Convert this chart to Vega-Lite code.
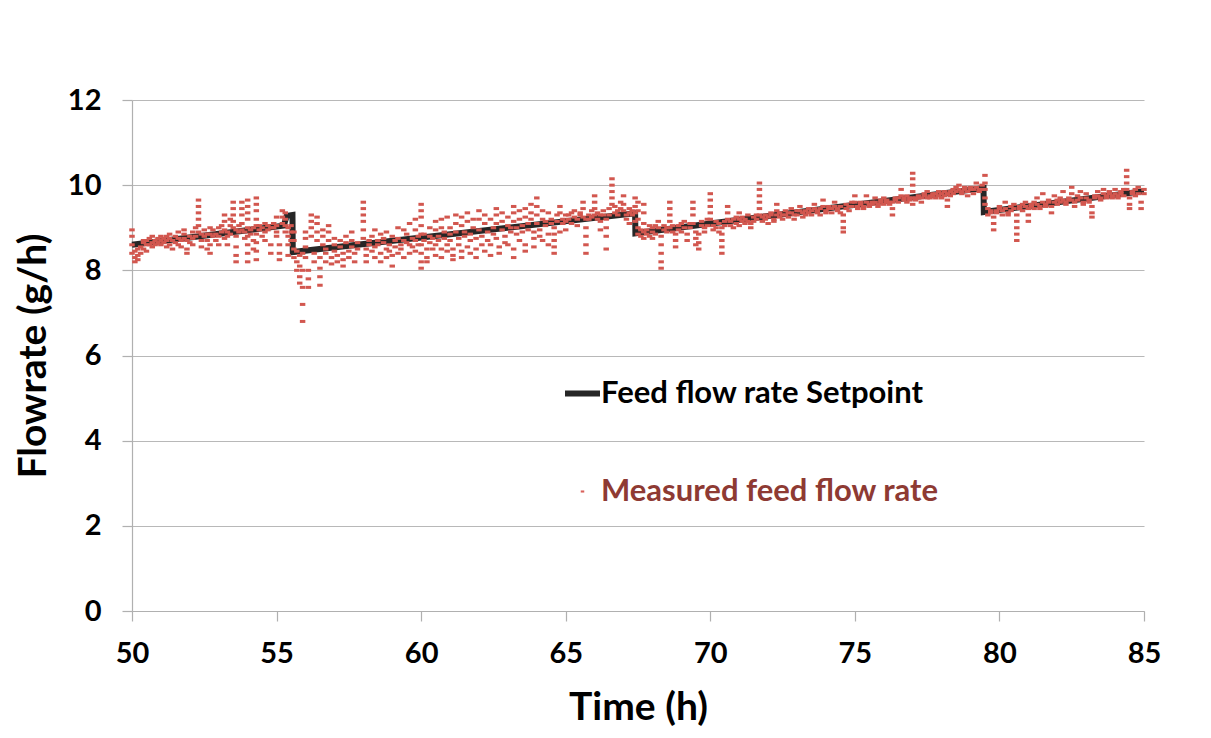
{
  "$schema": "https://vega.github.io/schema/vega-lite/v6.json",
  "width": 1012,
  "height": 511,
  "autosize": "none",
  "padding": {"left": 132, "top": 100, "right": 67, "bottom": 127},
  "background": "white",
  "config": {
    "view": {"stroke": null},
    "font": "Lato",
    "axis": {"labelFont": "Lato", "titleFont": "Lato", "labelFontWeight": "bold", "titleFontWeight": "bold", "labelColor": "black", "titleColor": "black", "labelFontSize": 29, "titleFontSize": 39, "domainColor": "#b0b0b0", "tickColor": "#b0b0b0", "gridColor": "#b8b8b8", "domainWidth": 1.2, "tickWidth": 1.2, "gridWidth": 1.2, "tickSize": 10, "labelFlush": false}
  },
  "datasets": {
    "sp": [
      {"i": 1, "t": 50, "s": 8.6, "series": "Feed flow rate Setpoint"},
      {"i": 2, "t": 55.25, "s": 9.05, "series": "Feed flow rate Setpoint"},
      {"i": 3, "t": 55.35, "s": 9.28, "series": "Feed flow rate Setpoint"},
      {"i": 4, "t": 55.55, "s": 9.3, "series": "Feed flow rate Setpoint"},
      {"i": 5, "t": 55.56, "s": 8.43, "series": "Feed flow rate Setpoint"},
      {"i": 6, "t": 67.4, "s": 9.34, "series": "Feed flow rate Setpoint"},
      {"i": 7, "t": 67.41, "s": 8.87, "series": "Feed flow rate Setpoint"},
      {"i": 8, "t": 79.45, "s": 9.93, "series": "Feed flow rate Setpoint"},
      {"i": 9, "t": 79.46, "s": 9.37, "series": "Feed flow rate Setpoint"},
      {"i": 10, "t": 85, "s": 9.86, "series": "Feed flow rate Setpoint"},
      {"i": 11, "t": 85, "s": 9.86, "series": "Measured feed flow rate"}
    ],
    "meas": [
      {"t":50.0,"v":8.95},{"t":50.0,"v":8.8},{"t":50.0,"v":8.6},{"t":50.0,"v":8.4},
      {"t":50.1,"v":8.3},{"t":50.1,"v":8.2},{"t":50.1,"v":8.45},
      {"t":50.2,"v":8.5},{"t":50.2,"v":8.35},{"t":50.2,"v":8.25},
      {"t":50.3,"v":8.55},{"t":50.3,"v":8.4},
      {"t":50.4,"v":8.65},{"t":50.4,"v":8.5},{"t":50.4,"v":8.7},
      {"t":50.5,"v":8.6},{"t":50.5,"v":8.7},{"t":50.5,"v":8.45},
      {"t":50.6,"v":8.75},{"t":50.6,"v":8.6},
      {"t":50.7,"v":8.65},{"t":50.7,"v":8.8},{"t":50.7,"v":8.55},
      {"t":50.8,"v":8.7},{"t":50.8,"v":8.6},
      {"t":50.9,"v":8.75},{"t":50.9,"v":8.65},
      {"t":51.0,"v":8.7},{"t":51.0,"v":8.8},{"t":51.0,"v":8.6},
      {"t":51.1,"v":8.65},{"t":51.1,"v":8.75},
      {"t":51.2,"v":8.8},{"t":51.2,"v":8.7},{"t":51.2,"v":8.55},
      {"t":51.3,"v":8.75},{"t":51.3,"v":8.85},{"t":51.3,"v":8.6},
      {"t":51.4,"v":8.7},{"t":51.4,"v":8.5},
      {"t":51.5,"v":8.8},{"t":51.5,"v":8.65},
      {"t":51.6,"v":8.75},{"t":51.6,"v":8.9},{"t":51.6,"v":8.6},
      {"t":51.7,"v":8.7},{"t":51.7,"v":8.55},
      {"t":51.8,"v":8.85},{"t":51.8,"v":8.75},{"t":51.8,"v":8.95},
      {"t":51.9,"v":8.7},{"t":51.9,"v":8.5},{"t":51.9,"v":8.4},
      {"t":52.0,"v":8.8},{"t":52.0,"v":8.65},
      {"t":52.1,"v":8.9},{"t":52.1,"v":8.75},{"t":52.1,"v":8.6},
      {"t":52.2,"v":8.8},{"t":52.2,"v":9.0},
      {"t":52.3,"v":9.65},{"t":52.3,"v":9.5},{"t":52.3,"v":9.35},{"t":52.3,"v":9.2},{"t":52.3,"v":9.05},{"t":52.3,"v":8.9},
      {"t":52.4,"v":8.85},{"t":52.4,"v":8.7},{"t":52.4,"v":8.55},
      {"t":52.5,"v":8.8},{"t":52.5,"v":8.95},
      {"t":52.6,"v":8.85},{"t":52.6,"v":8.7},{"t":52.6,"v":8.5},
      {"t":52.7,"v":9.0},{"t":52.7,"v":8.85},{"t":52.7,"v":8.6},{"t":52.7,"v":8.4},
      {"t":52.8,"v":8.8},{"t":52.8,"v":8.95},
      {"t":52.9,"v":8.85},{"t":52.9,"v":8.7},
      {"t":53.0,"v":9.0},{"t":53.0,"v":8.8},{"t":53.0,"v":8.6},
      {"t":53.1,"v":8.9},{"t":53.1,"v":9.05},
      {"t":53.2,"v":9.3},{"t":53.2,"v":9.15},{"t":53.2,"v":8.95},{"t":53.2,"v":8.75},
      {"t":53.3,"v":8.9},{"t":53.3,"v":8.8},{"t":53.3,"v":8.6},
      {"t":53.4,"v":9.2},{"t":53.4,"v":9.05},{"t":53.4,"v":8.85},
      {"t":53.5,"v":9.6},{"t":53.5,"v":9.45},{"t":53.5,"v":9.3},{"t":53.5,"v":9.15},{"t":53.5,"v":9.0},
      {"t":53.6,"v":8.95},{"t":53.6,"v":8.8},{"t":53.6,"v":8.55},{"t":53.6,"v":8.35},{"t":53.6,"v":8.2},
      {"t":53.7,"v":8.9},{"t":53.7,"v":9.05},
      {"t":53.8,"v":9.6},{"t":53.8,"v":9.45},{"t":53.8,"v":9.3},{"t":53.8,"v":9.1},{"t":53.8,"v":8.95},
      {"t":53.9,"v":8.9},{"t":53.9,"v":8.75},
      {"t":54.0,"v":9.65},{"t":54.0,"v":9.5},{"t":54.0,"v":9.35},{"t":54.0,"v":9.2},{"t":54.0,"v":9.0},{"t":54.0,"v":8.8},{"t":54.0,"v":8.6},{"t":54.0,"v":8.4},{"t":54.0,"v":8.2},
      {"t":54.1,"v":8.95},{"t":54.1,"v":8.85},
      {"t":54.2,"v":9.0},{"t":54.2,"v":8.7},{"t":54.2,"v":8.5},
      {"t":54.3,"v":9.7},{"t":54.3,"v":9.55},{"t":54.3,"v":9.4},{"t":54.3,"v":9.2},{"t":54.3,"v":9.05},{"t":54.3,"v":8.85},{"t":54.3,"v":8.65},{"t":54.3,"v":8.45},{"t":54.3,"v":8.25},
      {"t":54.4,"v":8.95},{"t":54.4,"v":9.05},
      {"t":54.5,"v":9.0},{"t":54.5,"v":8.8},
      {"t":54.6,"v":8.9},{"t":54.6,"v":9.1},{"t":54.6,"v":8.7},
      {"t":54.7,"v":9.05},{"t":54.7,"v":8.95},
      {"t":54.8,"v":9.0},{"t":54.8,"v":8.6},{"t":54.8,"v":8.4},
      {"t":54.9,"v":9.1},{"t":54.9,"v":9.0},
      {"t":55.0,"v":9.25},{"t":55.0,"v":9.05},{"t":55.0,"v":8.9},{"t":55.0,"v":8.8},
      {"t":55.1,"v":8.6},{"t":55.1,"v":8.4},{"t":55.1,"v":8.25},
      {"t":55.2,"v":9.4},{"t":55.2,"v":9.25},{"t":55.2,"v":9.1},
      {"t":55.3,"v":9.35},{"t":55.3,"v":9.2},{"t":55.3,"v":9.05},{"t":55.3,"v":8.9},
      {"t":55.4,"v":9.0},{"t":55.4,"v":8.8},{"t":55.4,"v":8.6},{"t":55.4,"v":8.35},
      {"t":55.5,"v":9.05},{"t":55.5,"v":8.9},{"t":55.5,"v":8.7},
      {"t":55.6,"v":8.9},{"t":55.6,"v":8.7},{"t":55.6,"v":8.5},{"t":55.6,"v":8.3},
      {"t":55.7,"v":8.2},{"t":55.7,"v":8.0},{"t":55.7,"v":8.45},
      {"t":55.8,"v":7.85},{"t":55.8,"v":7.7},{"t":55.8,"v":8.1},{"t":55.8,"v":8.35},
      {"t":55.9,"v":6.8},{"t":55.9,"v":7.2},{"t":55.9,"v":7.6},{"t":55.9,"v":8.0},{"t":55.9,"v":8.4},
      {"t":56.0,"v":8.55},{"t":56.0,"v":8.75},{"t":56.0,"v":8.9},{"t":56.0,"v":8.3},
      {"t":56.1,"v":8.0},{"t":56.1,"v":7.8},{"t":56.1,"v":7.6},
      {"t":56.2,"v":9.0},{"t":56.2,"v":9.15},{"t":56.2,"v":9.3},{"t":56.2,"v":8.8},
      {"t":56.3,"v":8.4},{"t":56.3,"v":8.2},
      {"t":56.4,"v":9.25},{"t":56.4,"v":9.1},{"t":56.4,"v":8.9},{"t":56.4,"v":8.7},
      {"t":56.5,"v":8.05},{"t":56.5,"v":7.85},{"t":56.5,"v":7.65},{"t":56.5,"v":8.3},
      {"t":56.6,"v":8.6},{"t":56.6,"v":8.8},{"t":56.6,"v":8.95},
      {"t":56.7,"v":8.4},{"t":56.7,"v":8.2},{"t":56.7,"v":8.5},
      {"t":56.8,"v":8.9},{"t":56.8,"v":9.05},{"t":56.8,"v":8.7},
      {"t":56.9,"v":8.3},{"t":56.9,"v":8.15},
      {"t":57.0,"v":8.6},{"t":57.0,"v":8.45},{"t":57.0,"v":8.75},
      {"t":57.1,"v":8.35},{"t":57.1,"v":8.2},
      {"t":57.2,"v":8.7},{"t":57.2,"v":8.55},
      {"t":57.3,"v":8.4},{"t":57.3,"v":8.25},{"t":57.3,"v":8.1},
      {"t":57.4,"v":8.65},{"t":57.4,"v":8.8},
      {"t":57.5,"v":8.45},{"t":57.5,"v":8.3},
      {"t":57.6,"v":8.7},{"t":57.6,"v":8.55},{"t":57.6,"v":8.9},
      {"t":57.7,"v":8.4},{"t":57.7,"v":8.2},
      {"t":57.8,"v":8.65},{"t":57.8,"v":8.5},
      {"t":58.0,"v":9.6},{"t":58.0,"v":9.45},{"t":58.0,"v":9.3},{"t":58.0,"v":9.15},{"t":58.0,"v":8.95},{"t":58.0,"v":8.75},
      {"t":58.1,"v":8.5},{"t":58.1,"v":8.35},{"t":58.1,"v":8.2},
      {"t":58.2,"v":8.6},{"t":58.2,"v":8.7},
      {"t":58.3,"v":8.45},{"t":58.3,"v":8.8},
      {"t":58.4,"v":8.95},{"t":58.4,"v":8.55},{"t":58.4,"v":8.3},
      {"t":58.5,"v":8.7},{"t":58.5,"v":8.6},
      {"t":58.6,"v":8.85},{"t":58.6,"v":8.4},{"t":58.6,"v":8.2},
      {"t":58.7,"v":8.65},{"t":58.7,"v":8.75},
      {"t":58.8,"v":8.9},{"t":58.8,"v":8.5},{"t":58.8,"v":8.3},
      {"t":58.9,"v":8.6},{"t":58.9,"v":8.45},
      {"t":59.0,"v":8.8},{"t":59.0,"v":8.35},{"t":59.0,"v":8.1},
      {"t":59.1,"v":8.55},{"t":59.1,"v":8.7},
      {"t":59.2,"v":9.0},{"t":59.2,"v":8.75},{"t":59.2,"v":8.4},
      {"t":59.3,"v":8.6},{"t":59.3,"v":8.5},
      {"t":59.4,"v":8.95},{"t":59.4,"v":8.7},{"t":59.4,"v":8.3},
      {"t":59.5,"v":8.65},{"t":59.5,"v":8.85},
      {"t":59.6,"v":9.1},{"t":59.6,"v":8.6},{"t":59.6,"v":8.4},
      {"t":59.7,"v":8.75},{"t":59.7,"v":8.55},
      {"t":59.8,"v":9.2},{"t":59.8,"v":8.95},{"t":59.8,"v":8.7},{"t":59.8,"v":8.45},
      {"t":59.9,"v":8.6},{"t":59.9,"v":8.8},
      {"t":60.0,"v":9.55},{"t":60.0,"v":9.4},{"t":60.0,"v":9.25},{"t":60.0,"v":9.05},{"t":60.0,"v":8.85},{"t":60.0,"v":8.6},{"t":60.0,"v":8.4},{"t":60.0,"v":8.2},{"t":60.0,"v":8.05},
      {"t":60.1,"v":8.7},{"t":60.1,"v":8.85},
      {"t":60.2,"v":8.5},{"t":60.2,"v":8.3},{"t":60.2,"v":8.2},
      {"t":60.3,"v":9.0},{"t":60.3,"v":8.8},{"t":60.3,"v":8.65},
      {"t":60.4,"v":8.75},{"t":60.4,"v":8.5},
      {"t":60.5,"v":9.15},{"t":60.5,"v":8.95},{"t":60.5,"v":8.6},{"t":60.5,"v":8.35},
      {"t":60.6,"v":8.8},{"t":60.6,"v":8.7},
      {"t":60.7,"v":9.2},{"t":60.7,"v":9.0},{"t":60.7,"v":8.5},{"t":60.7,"v":8.3},
      {"t":60.8,"v":8.75},{"t":60.8,"v":8.9},
      {"t":60.9,"v":9.25},{"t":60.9,"v":8.6},{"t":60.9,"v":8.45},
      {"t":61.0,"v":8.85},{"t":61.0,"v":9.0},{"t":61.0,"v":8.7},
      {"t":61.1,"v":8.5},{"t":61.1,"v":8.35},{"t":61.1,"v":8.25},
      {"t":61.2,"v":9.3},{"t":61.2,"v":9.1},{"t":61.2,"v":8.9},
      {"t":61.3,"v":8.75},{"t":61.3,"v":8.6},
      {"t":61.4,"v":9.25},{"t":61.4,"v":9.05},{"t":61.4,"v":8.45},{"t":61.4,"v":8.3},
      {"t":61.5,"v":8.9},{"t":61.5,"v":8.8},
      {"t":61.6,"v":9.35},{"t":61.6,"v":9.15},{"t":61.6,"v":8.55},
      {"t":61.7,"v":8.85},{"t":61.7,"v":8.7},{"t":61.7,"v":8.4},
      {"t":61.8,"v":9.2},{"t":61.8,"v":9.0},
      {"t":61.9,"v":8.75},{"t":61.9,"v":8.5},{"t":61.9,"v":8.3},
      {"t":62.0,"v":9.4},{"t":62.0,"v":9.2},{"t":62.0,"v":8.95},
      {"t":62.1,"v":8.8},{"t":62.1,"v":8.6},
      {"t":62.2,"v":9.3},{"t":62.2,"v":9.1},{"t":62.2,"v":8.45},
      {"t":62.3,"v":8.9},{"t":62.3,"v":8.7},
      {"t":62.4,"v":9.2},{"t":62.4,"v":8.6},{"t":62.4,"v":8.35},
      {"t":62.5,"v":9.0},{"t":62.5,"v":8.85},
      {"t":62.6,"v":9.45},{"t":62.6,"v":9.3},{"t":62.6,"v":9.1},{"t":62.6,"v":8.75},
      {"t":62.7,"v":8.55},{"t":62.7,"v":8.4},
      {"t":62.8,"v":9.35},{"t":62.8,"v":9.15},{"t":62.8,"v":8.95},
      {"t":62.9,"v":8.8},{"t":62.9,"v":8.65},
      {"t":63.0,"v":9.25},{"t":63.0,"v":9.05},{"t":63.0,"v":8.6},
      {"t":63.1,"v":8.9},{"t":63.1,"v":9.0},
      {"t":63.2,"v":9.5},{"t":63.2,"v":9.35},{"t":63.2,"v":9.15},{"t":63.2,"v":8.5},{"t":63.2,"v":8.3},
      {"t":63.3,"v":9.0},{"t":63.3,"v":8.85},
      {"t":63.4,"v":9.4},{"t":63.4,"v":9.2},{"t":63.4,"v":8.7},
      {"t":63.5,"v":9.05},{"t":63.5,"v":8.9},
      {"t":63.6,"v":9.45},{"t":63.6,"v":9.25},{"t":63.6,"v":8.6},{"t":63.6,"v":8.45},
      {"t":63.7,"v":9.1},{"t":63.7,"v":8.95},
      {"t":63.8,"v":9.55},{"t":63.8,"v":9.35},{"t":63.8,"v":9.2},
      {"t":63.9,"v":8.9},{"t":63.9,"v":8.75},{"t":63.9,"v":8.55},
      {"t":64.0,"v":9.7},{"t":64.0,"v":9.5},{"t":64.0,"v":9.3},{"t":64.0,"v":9.1},
      {"t":64.1,"v":8.95},{"t":64.1,"v":8.8},
      {"t":64.2,"v":9.4},{"t":64.2,"v":9.2},{"t":64.2,"v":8.7},
      {"t":64.3,"v":9.05},{"t":64.3,"v":9.15},
      {"t":64.4,"v":9.35},{"t":64.4,"v":8.85},{"t":64.4,"v":8.6},
      {"t":64.5,"v":9.2},{"t":64.5,"v":9.1},
      {"t":64.6,"v":9.0},{"t":64.6,"v":8.85},{"t":64.6,"v":8.7},{"t":64.6,"v":8.55},{"t":64.6,"v":8.4},
      {"t":64.7,"v":9.15},{"t":64.7,"v":9.3},
      {"t":64.8,"v":9.5},{"t":64.8,"v":9.35},{"t":64.8,"v":8.9},
      {"t":64.9,"v":9.2},{"t":64.9,"v":9.1},
      {"t":65.0,"v":9.3},{"t":65.0,"v":9.15},{"t":65.0,"v":8.95},
      {"t":65.1,"v":9.2},{"t":65.1,"v":9.3},
      {"t":65.2,"v":9.35},{"t":65.2,"v":9.1},
      {"t":65.3,"v":9.25},{"t":65.3,"v":9.4},
      {"t":65.4,"v":9.2},{"t":65.4,"v":9.05},
      {"t":65.5,"v":9.35},{"t":65.5,"v":9.3},
      {"t":65.6,"v":9.6},{"t":65.6,"v":9.45},{"t":65.6,"v":9.25},
      {"t":65.7,"v":9.2},{"t":65.7,"v":9.0},{"t":65.7,"v":8.8},{"t":65.7,"v":8.6},{"t":65.7,"v":8.4},
      {"t":65.8,"v":9.3},{"t":65.8,"v":9.2},
      {"t":65.9,"v":9.4},{"t":65.9,"v":9.25},
      {"t":66.0,"v":9.75},{"t":66.0,"v":9.6},{"t":66.0,"v":9.45},{"t":66.0,"v":9.3},
      {"t":66.1,"v":9.2},{"t":66.1,"v":9.35},
      {"t":66.2,"v":9.3},{"t":66.2,"v":9.15},{"t":66.2,"v":8.95},
      {"t":66.3,"v":9.4},{"t":66.3,"v":9.3},
      {"t":66.4,"v":9.2},{"t":66.4,"v":9.0},{"t":66.4,"v":8.8},{"t":66.4,"v":8.5},
      {"t":66.5,"v":9.45},{"t":66.5,"v":9.3},
      {"t":66.6,"v":10.15},{"t":66.6,"v":10.0},{"t":66.6,"v":9.85},{"t":66.6,"v":9.7},{"t":66.6,"v":9.55},
      {"t":66.7,"v":9.35},{"t":66.7,"v":9.5},
      {"t":66.8,"v":9.4},{"t":66.8,"v":9.3},
      {"t":66.9,"v":9.6},{"t":66.9,"v":9.45},
      {"t":67.0,"v":9.75},{"t":67.0,"v":9.55},{"t":67.0,"v":9.4},
      {"t":67.1,"v":9.3},{"t":67.1,"v":9.2},
      {"t":67.2,"v":9.45},{"t":67.2,"v":9.35},{"t":67.2,"v":9.1},
      {"t":67.3,"v":9.4},{"t":67.3,"v":9.3},
      {"t":67.4,"v":9.7},{"t":67.4,"v":9.5},{"t":67.4,"v":9.35},{"t":67.4,"v":9.15},
      {"t":67.5,"v":9.6},{"t":67.5,"v":9.4},{"t":67.5,"v":9.2},{"t":67.5,"v":9.0},{"t":67.5,"v":8.85},
      {"t":67.6,"v":8.8},{"t":67.6,"v":8.95},
      {"t":67.7,"v":9.55},{"t":67.7,"v":9.35},{"t":67.7,"v":9.1},{"t":67.7,"v":8.9},{"t":67.7,"v":8.75},
      {"t":67.8,"v":8.85},{"t":67.8,"v":8.95},
      {"t":67.9,"v":9.05},{"t":67.9,"v":8.8},
      {"t":68.0,"v":8.9},{"t":68.0,"v":9.0},{"t":68.0,"v":8.75},
      {"t":68.1,"v":9.05},{"t":68.1,"v":8.85},
      {"t":68.2,"v":9.15},{"t":68.2,"v":9.0},
      {"t":68.3,"v":8.05},{"t":68.3,"v":8.2},{"t":68.3,"v":8.4},{"t":68.3,"v":8.6},{"t":68.3,"v":8.8},
      {"t":68.4,"v":8.95},{"t":68.4,"v":9.05},
      {"t":68.5,"v":8.9},{"t":68.5,"v":9.0},
      {"t":68.6,"v":9.6},{"t":68.6,"v":9.45},{"t":68.6,"v":9.3},{"t":68.6,"v":9.15},{"t":68.6,"v":9.0},
      {"t":68.7,"v":8.9},{"t":68.7,"v":9.05},
      {"t":68.8,"v":8.85},{"t":68.8,"v":8.7},{"t":68.8,"v":8.55},
      {"t":68.9,"v":9.05},{"t":68.9,"v":8.95},
      {"t":69.0,"v":9.1},{"t":69.0,"v":8.9},
      {"t":69.1,"v":9.0},{"t":69.1,"v":9.15},
      {"t":69.2,"v":8.85},{"t":69.2,"v":8.7},
      {"t":69.3,"v":9.1},{"t":69.3,"v":9.0},
      {"t":69.4,"v":9.6},{"t":69.4,"v":9.45},{"t":69.4,"v":9.3},{"t":69.4,"v":9.1},
      {"t":69.5,"v":8.9},{"t":69.5,"v":8.75},{"t":69.5,"v":8.6},
      {"t":69.6,"v":8.5},{"t":69.6,"v":8.65},{"t":69.6,"v":8.85},
      {"t":69.7,"v":9.05},{"t":69.7,"v":9.15},
      {"t":69.8,"v":9.0},{"t":69.8,"v":8.9},
      {"t":69.9,"v":9.2},{"t":69.9,"v":9.05},
      {"t":70.0,"v":9.8},{"t":70.0,"v":9.65},{"t":70.0,"v":9.5},{"t":70.0,"v":9.35},{"t":70.0,"v":9.2},
      {"t":70.1,"v":9.05},{"t":70.1,"v":8.95},
      {"t":70.2,"v":9.15},{"t":70.2,"v":9.0},
      {"t":70.3,"v":8.9},{"t":70.3,"v":9.1},
      {"t":70.4,"v":8.4},{"t":70.4,"v":8.55},{"t":70.4,"v":8.7},{"t":70.4,"v":8.85},{"t":70.4,"v":9.0},
      {"t":70.5,"v":9.15},{"t":70.5,"v":9.05},
      {"t":70.6,"v":9.5},{"t":70.6,"v":9.35},{"t":70.6,"v":9.2},
      {"t":70.7,"v":9.05},{"t":70.7,"v":9.15},
      {"t":70.8,"v":9.0},{"t":70.8,"v":9.2},
      {"t":70.9,"v":9.1},{"t":70.9,"v":9.25},
      {"t":71.0,"v":9.35},{"t":71.0,"v":9.2},{"t":71.0,"v":9.05},
      {"t":71.1,"v":9.15},{"t":71.1,"v":9.25},
      {"t":71.2,"v":9.1},{"t":71.2,"v":9.2},
      {"t":71.3,"v":9.3},{"t":71.3,"v":9.15},
      {"t":71.4,"v":9.0},{"t":71.4,"v":9.1},
      {"t":71.5,"v":9.25},{"t":71.5,"v":9.15},
      {"t":71.6,"v":9.2},{"t":71.6,"v":9.3},
      {"t":71.7,"v":10.05},{"t":71.7,"v":9.9},{"t":71.7,"v":9.75},{"t":71.7,"v":9.6},{"t":71.7,"v":9.45},{"t":71.7,"v":9.3},
      {"t":71.8,"v":9.15},{"t":71.8,"v":9.25},
      {"t":71.9,"v":9.3},{"t":71.9,"v":9.2},
      {"t":72.0,"v":9.1},{"t":72.0,"v":9.25},
      {"t":72.1,"v":9.35},{"t":72.1,"v":9.3},
      {"t":72.2,"v":9.2},{"t":72.2,"v":9.15},
      {"t":72.3,"v":9.55},{"t":72.3,"v":9.4},{"t":72.3,"v":9.3},
      {"t":72.4,"v":9.25},{"t":72.4,"v":9.35},
      {"t":72.5,"v":9.3},{"t":72.5,"v":9.2},
      {"t":72.6,"v":9.4},{"t":72.6,"v":9.3},
      {"t":72.7,"v":9.25},{"t":72.7,"v":9.35},
      {"t":72.8,"v":9.45},{"t":72.8,"v":9.35},
      {"t":72.9,"v":9.3},{"t":72.9,"v":9.2},
      {"t":73.0,"v":9.4},{"t":73.0,"v":9.3},
      {"t":73.1,"v":9.5},{"t":73.1,"v":9.4},
      {"t":73.2,"v":9.35},{"t":73.2,"v":9.25},
      {"t":73.3,"v":9.4},{"t":73.3,"v":9.3},
      {"t":73.4,"v":9.45},{"t":73.4,"v":9.35},
      {"t":73.5,"v":9.3},{"t":73.5,"v":9.4},
      {"t":73.6,"v":9.55},{"t":73.6,"v":9.45},
      {"t":73.7,"v":9.35},{"t":73.7,"v":9.4},
      {"t":73.8,"v":9.45},{"t":73.8,"v":9.3},
      {"t":73.9,"v":9.65},{"t":73.9,"v":9.5},
      {"t":74.0,"v":9.4},{"t":74.0,"v":9.35},
      {"t":74.1,"v":9.5},{"t":74.1,"v":9.45},
      {"t":74.2,"v":9.35},{"t":74.2,"v":9.45},
      {"t":74.3,"v":9.6},{"t":74.3,"v":9.5},
      {"t":74.4,"v":9.45},{"t":74.4,"v":9.4},
      {"t":74.5,"v":9.5},{"t":74.5,"v":9.35},
      {"t":74.6,"v":9.3},{"t":74.6,"v":9.15},{"t":74.6,"v":9.0},{"t":74.6,"v":8.9},
      {"t":74.7,"v":9.45},{"t":74.7,"v":9.55},
      {"t":74.8,"v":9.5},{"t":74.8,"v":9.4},
      {"t":74.9,"v":9.6},{"t":74.9,"v":9.5},
      {"t":75.0,"v":9.75},{"t":75.0,"v":9.6},
      {"t":75.1,"v":9.5},{"t":75.1,"v":9.45},
      {"t":75.2,"v":9.55},{"t":75.2,"v":9.6},
      {"t":75.3,"v":9.45},{"t":75.3,"v":9.5},
      {"t":75.4,"v":9.75},{"t":75.4,"v":9.6},
      {"t":75.5,"v":9.55},{"t":75.5,"v":9.5},
      {"t":75.6,"v":9.6},{"t":75.6,"v":9.55},
      {"t":75.7,"v":9.7},{"t":75.7,"v":9.6},
      {"t":75.8,"v":9.55},{"t":75.8,"v":9.5},
      {"t":75.9,"v":9.6},{"t":75.9,"v":9.65},
      {"t":76.0,"v":9.55},{"t":76.0,"v":9.7},
      {"t":76.1,"v":9.6},{"t":76.1,"v":9.65},
      {"t":76.2,"v":9.55},{"t":76.2,"v":9.6},
      {"t":76.3,"v":9.3},{"t":76.3,"v":9.45},{"t":76.3,"v":9.6},
      {"t":76.4,"v":9.65},{"t":76.4,"v":9.7},
      {"t":76.5,"v":9.6},{"t":76.5,"v":9.7},
      {"t":76.6,"v":9.9},{"t":76.6,"v":9.75},
      {"t":76.7,"v":9.65},{"t":76.7,"v":9.7},
      {"t":76.8,"v":9.6},{"t":76.8,"v":9.75},
      {"t":76.9,"v":9.7},{"t":76.9,"v":9.65},
      {"t":77.0,"v":10.28},{"t":77.0,"v":10.15},{"t":77.0,"v":10.0},{"t":77.0,"v":9.85},{"t":77.0,"v":9.7},{"t":77.0,"v":9.55},
      {"t":77.1,"v":9.7},{"t":77.1,"v":9.65},
      {"t":77.2,"v":9.75},{"t":77.2,"v":9.7},
      {"t":77.3,"v":9.6},{"t":77.3,"v":9.7},
      {"t":77.4,"v":9.75},{"t":77.4,"v":9.8},
      {"t":77.5,"v":9.85},{"t":77.5,"v":9.7},
      {"t":77.6,"v":9.75},{"t":77.6,"v":9.7},
      {"t":77.7,"v":9.8},{"t":77.7,"v":9.75},
      {"t":77.8,"v":9.7},{"t":77.8,"v":9.8},
      {"t":77.9,"v":9.75},{"t":77.9,"v":9.85},
      {"t":78.0,"v":9.8},{"t":78.0,"v":9.7},
      {"t":78.1,"v":9.75},{"t":78.1,"v":9.85},
      {"t":78.2,"v":9.5},{"t":78.2,"v":9.65},{"t":78.2,"v":9.8},
      {"t":78.3,"v":9.85},{"t":78.3,"v":9.75},
      {"t":78.4,"v":9.8},{"t":78.4,"v":9.9},
      {"t":78.5,"v":9.85},{"t":78.5,"v":9.95},
      {"t":78.6,"v":10.0},{"t":78.6,"v":9.9},
      {"t":78.7,"v":9.85},{"t":78.7,"v":9.8},
      {"t":78.8,"v":9.9},{"t":78.8,"v":9.95},
      {"t":78.9,"v":9.85},{"t":78.9,"v":9.75},
      {"t":79.0,"v":9.95},{"t":79.0,"v":9.9},
      {"t":79.1,"v":9.8},{"t":79.1,"v":9.9},
      {"t":79.2,"v":10.05},{"t":79.2,"v":9.95},
      {"t":79.3,"v":9.9},{"t":79.3,"v":9.85},
      {"t":79.4,"v":10.0},{"t":79.4,"v":9.9},
      {"t":79.5,"v":10.23},{"t":79.5,"v":10.05},{"t":79.5,"v":9.9},{"t":79.5,"v":9.7},{"t":79.5,"v":9.55},
      {"t":79.6,"v":9.45},{"t":79.6,"v":9.3},
      {"t":79.7,"v":9.35},{"t":79.7,"v":9.4},
      {"t":79.8,"v":9.25},{"t":79.8,"v":9.1},{"t":79.8,"v":8.95},
      {"t":79.9,"v":9.4},{"t":79.9,"v":9.35},
      {"t":80.0,"v":9.5},{"t":80.0,"v":9.45},
      {"t":80.1,"v":9.3},{"t":80.1,"v":9.4},
      {"t":80.2,"v":9.6},{"t":80.2,"v":9.45},
      {"t":80.3,"v":9.35},{"t":80.3,"v":9.3},
      {"t":80.4,"v":9.5},{"t":80.4,"v":9.4},
      {"t":80.5,"v":9.55},{"t":80.5,"v":9.45},
      {"t":80.6,"v":9.3},{"t":80.6,"v":9.15},{"t":80.6,"v":9.0},{"t":80.6,"v":8.85},{"t":80.6,"v":8.7},
      {"t":80.7,"v":9.45},{"t":80.7,"v":9.5},
      {"t":80.8,"v":9.55},{"t":80.8,"v":9.4},
      {"t":80.9,"v":9.6},{"t":80.9,"v":9.5},
      {"t":81.0,"v":9.45},{"t":81.0,"v":9.3},{"t":81.0,"v":9.15},
      {"t":81.1,"v":9.55},{"t":81.1,"v":9.5},
      {"t":81.2,"v":9.6},{"t":81.2,"v":9.45},
      {"t":81.3,"v":9.7},{"t":81.3,"v":9.55},
      {"t":81.4,"v":9.5},{"t":81.4,"v":9.45},
      {"t":81.5,"v":9.8},{"t":81.5,"v":9.6},
      {"t":81.6,"v":9.55},{"t":81.6,"v":9.5},
      {"t":81.7,"v":9.65},{"t":81.7,"v":9.6},
      {"t":81.8,"v":9.5},{"t":81.8,"v":9.35},
      {"t":81.9,"v":9.75},{"t":81.9,"v":9.6},
      {"t":82.0,"v":9.55},{"t":82.0,"v":9.65},
      {"t":82.1,"v":9.6},{"t":82.1,"v":9.7},
      {"t":82.2,"v":9.85},{"t":82.2,"v":9.65},
      {"t":82.3,"v":9.55},{"t":82.3,"v":9.6},
      {"t":82.4,"v":9.7},{"t":82.4,"v":9.65},
      {"t":82.5,"v":9.95},{"t":82.5,"v":9.8},{"t":82.5,"v":9.65},
      {"t":82.6,"v":9.6},{"t":82.6,"v":9.5},
      {"t":82.7,"v":9.75},{"t":82.7,"v":9.65},
      {"t":82.8,"v":9.85},{"t":82.8,"v":9.7},
      {"t":82.9,"v":9.6},{"t":82.9,"v":9.55},
      {"t":83.0,"v":9.8},{"t":83.0,"v":9.7},
      {"t":83.1,"v":9.65},{"t":83.1,"v":9.6},
      {"t":83.2,"v":9.5},{"t":83.2,"v":9.35},{"t":83.2,"v":9.25},
      {"t":83.3,"v":9.75},{"t":83.3,"v":9.7},
      {"t":83.4,"v":9.85},{"t":83.4,"v":9.75},
      {"t":83.5,"v":9.7},{"t":83.5,"v":9.65},
      {"t":83.6,"v":9.9},{"t":83.6,"v":9.8},
      {"t":83.7,"v":9.75},{"t":83.7,"v":9.7},
      {"t":83.8,"v":9.8},{"t":83.8,"v":9.85},
      {"t":83.9,"v":9.7},{"t":83.9,"v":9.75},
      {"t":84.0,"v":9.9},{"t":84.0,"v":9.8},
      {"t":84.1,"v":9.75},{"t":84.1,"v":9.7},
      {"t":84.2,"v":9.85},{"t":84.2,"v":9.8},
      {"t":84.3,"v":9.75},{"t":84.3,"v":9.9},
      {"t":84.4,"v":10.35},{"t":84.4,"v":10.2},{"t":84.4,"v":10.05},{"t":84.4,"v":9.9},
      {"t":84.5,"v":9.7},{"t":84.5,"v":9.55},{"t":84.5,"v":9.45},
      {"t":84.6,"v":9.85},{"t":84.6,"v":9.8},
      {"t":84.7,"v":9.9},{"t":84.7,"v":9.75},
      {"t":84.8,"v":9.8},{"t":84.8,"v":9.95},
      {"t":84.9,"v":9.6},{"t":84.9,"v":9.45},
      {"t":85.0,"v":9.9},{"t":85.0,"v":9.8}
    ]
  },
  "layer": [
    {
      "data": {"name": "sp"},
      "transform": [{"filter": "datum.i <= 10"}],
      "mark": {"type": "line", "strokeWidth": 6, "strokeCap": "butt", "strokeJoin": "miter"},
      "encoding": {
        "x": {"field": "t", "type": "quantitative", "scale": {"domain": [50, 85], "nice": false, "zero": false},
          "axis": {"values": [50, 55, 60, 65, 70, 75, 80, 85], "format": "d", "title": "Time (h)", "grid": false, "labelPadding": 18, "titlePadding": 20}},
        "y": {"field": "s", "type": "quantitative", "scale": {"domain": [0, 12], "nice": false},
          "axis": {"values": [0, 2, 4, 6, 8, 10, 12], "title": "Flowrate (g/h)", "grid": true, "labelPadding": 21, "titlePadding": 14}},
        "order": {"field": "i", "type": "quantitative"},
        "color": {"field": "series", "type": "nominal",
          "scale": {"domain": ["Feed flow rate Setpoint", "Measured feed flow rate"], "range": ["#262626", "#d2574f"]},
          "legend": {
            "orient": "none", "legendX": 435, "legendY": 278, "title": null, "padding": 0,
            "symbolType": "stroke", "symbolSize": 1225, "symbolStrokeWidth": 6,
            "labelFont": "Lato", "labelFontSize": 31, "labelFontWeight": "bold", "labelLimit": 700, "labelOffset": 3,
            "rowPadding": 66,
            "encode": {
              "symbols": {"update": {
                "shape": {"signal": "datum.value === 'Measured feed flow rate' ? 'M-0.1,-0.06L0.1,-0.06L0.1,0.06L-0.1,0.06Z' : 'stroke'"},
                "fill": {"signal": "datum.value === 'Measured feed flow rate' ? '#d9625b' : 'transparent'"},
                "stroke": {"signal": "datum.value === 'Measured feed flow rate' ? 'transparent' : '#333333'"},
                "strokeWidth": {"signal": "datum.value === 'Measured feed flow rate' ? 0 : 6"}
              }},
              "labels": {"update": {
                "fill": {"signal": "datum.value === 'Measured feed flow rate' ? '#8e3a33' : '#000000'"}
              }}
            }
          }}
      }
    },
    {
      "data": {"name": "meas"},
      "mark": {"type": "point", "filled": true, "shape": "M-1,-0.55L1,-0.55L1,0.55L-1,0.55Z", "size": 30, "color": "#d2574f", "opacity": 1, "strokeWidth": 0},
      "encoding": {
        "x": {"field": "t", "type": "quantitative"},
        "y": {"field": "v", "type": "quantitative"}
      }
    }
  ]
}
